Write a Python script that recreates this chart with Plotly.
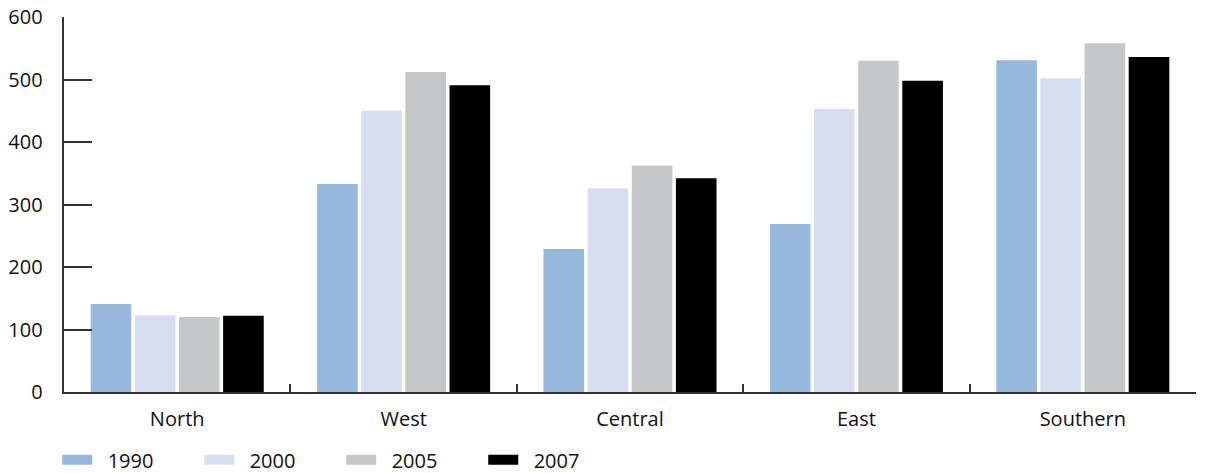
import plotly.graph_objects as go

regions = ["North", "West", "Central", "East", "Southern"]
years = ["1990", "2000", "2005", "2007"]
v1990 = [141, 333, 229, 269, 531]
v2000 = [123, 450, 326, 453, 502]
v2005 = [120, 512, 362, 530, 558]
v2007 = [122, 491, 342, 498, 536]
series = [v1990, v2000, v2005, v2007]
colors = ["#98b9de", "#d5dfef", "#c6c7c9", "#000000"]

FONT = "Open Sans"
NBSP = "\u00a0"

fig = go.Figure()
for name, vals, col in zip(years, series, colors):
    fig.add_trace(go.Bar(x=regions, y=vals, name=name, marker_color=col,
                         marker_line_width=0, showlegend=False))
for name, col in zip(years, colors):
    fig.add_trace(go.Scatter(x=[None], y=[None], mode="lines",
                             name=NBSP * 2 + name,
                             line=dict(color=col, width=10), showlegend=True))

fig.update_layout(
    width=1205, height=473,
    margin=dict(l=64, r=9, t=17, b=81, autoexpand=False),
    paper_bgcolor="white", plot_bgcolor="white",
    barmode="group", bargap=0.22, bargroupgap=0.08,
    font=dict(family=FONT, size=20, color="#111111"),
    legend=dict(orientation="h", x=0.0475, xanchor="left", xref="container",
                y=0.028, yanchor="middle", yref="container",
                entrywidth=97, entrywidthmode="pixels",
                font=dict(size=20), traceorder="normal"),
    xaxis=dict(showline=True, linecolor="#333333", linewidth=1.5,
               ticks="inside", tickson="boundaries", ticklen=8,
               tickcolor="#333333", tickwidth=1.5, showgrid=False,
               ticklabelstandoff=8, automargin=False),
    yaxis=dict(range=[0, 600], tickmode="linear", tick0=0, dtick=100,
               showline=True, linecolor="#333333", linewidth=1.5,
               ticks="inside", ticklen=28, tickcolor="#333333", tickwidth=1.5,
               showgrid=False, zeroline=False, ticksuffix="   ",
               automargin=False),
)

fig.write_html("out.html", config={"displayModeBar": False},
               post_script="document.body.style.margin='0';document.body.style.overflow='hidden';")
